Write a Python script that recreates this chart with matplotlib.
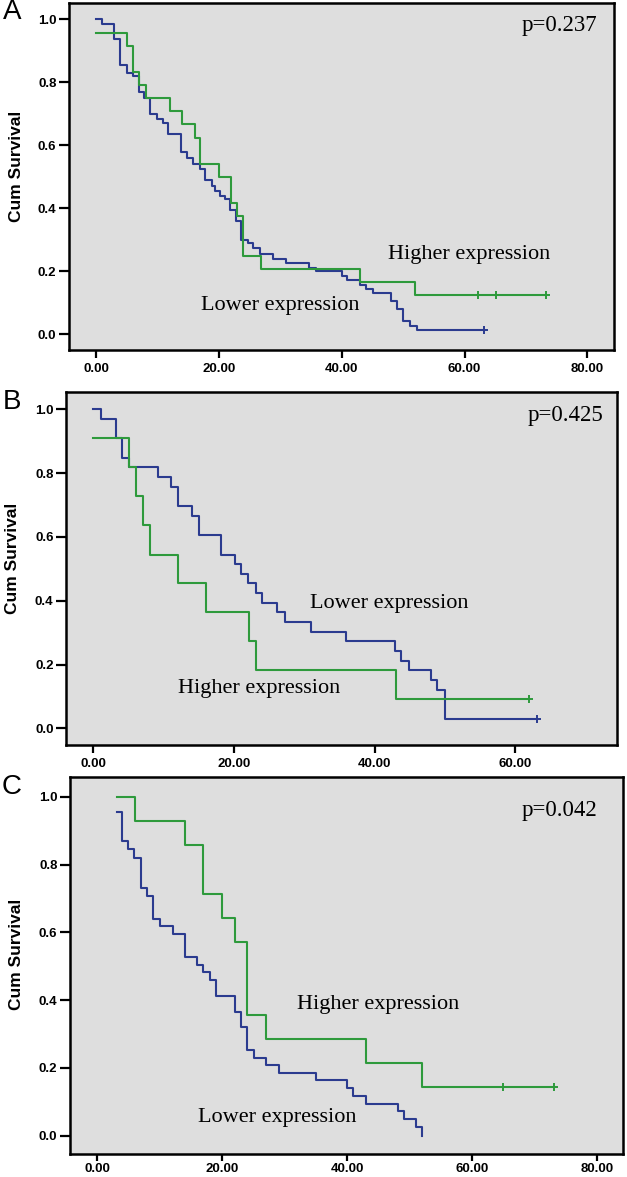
import matplotlib
matplotlib.use('Agg')
import matplotlib.pyplot as plt
import numpy as np

# ---- data (time, cumulative survival) ----
# panel A
a_low_t = [0, 0.9, 2.9, 3.9, 4.9, 5.9, 6.9, 7.8, 8.8, 9.8, 10.8, 11.7, 13.7, 14.7, 15.8,
           16.9, 17.7, 18.8, 19.3, 20.1, 20.9, 21.7, 22.8, 23.6, 24.7, 25.5, 26.6, 28.8,
           30.9, 34.7, 35.8, 40.0, 40.8, 43.0, 44.0, 45.0, 48.0, 49.0, 50.0, 51.1, 52.2, 63.2]
a_low_s = [1.0, .987, .937, .855, .83, .82, .77, .75, .70, .685, .67, .635, .58, .56, .54,
           .525, .49, .47, .455, .44, .43, .395, .36, .30, .29, .275, .255, .24,
           .225, .21, .20, .185, .172, .158, .145, .132, .107, .08, .041, .027, .014, .014]
a_low_cens = [63.2]
a_high_t = [0, 5.0, 5.9, 7.0, 8.0, 12.0, 14.0, 16.0, 16.9, 20.0, 22.0, 22.9, 23.9, 26.9, 43.0, 52.0, 73.2]
a_high_s = [.958, .917, .833, .792, .75, .708, .667, .625, .542, .5, .417, .375, .25, .208, .167, .125, .125]
a_high_cens = [62.2, 65.2, 73.2]

# panel B
b_low_t = [0, 1.1, 3.2, 4.1, 5.1, 9.2, 11.1, 12.1, 14.1, 15.1, 18.2, 20.1, 21.0, 22.0,
           23.1, 24.0, 26.1, 27.2, 31.0, 36.0, 42.9, 43.8, 44.9, 48.0, 48.9, 50.0, 63.1]
b_low_s = [1.0, .970, .909, .848, .818, .788, .758, .697, .667, .606, .545, .515, .485, .455,
           .424, .394, .364, .333, .303, .273, .242, .212, .182, .152, .121, .030, .030]
b_low_cens = [63.1]
b_high_t = [0, 5.1, 6.1, 7.1, 8.0, 12.1, 16.1, 22.1, 23.2, 43.0, 62.0]
b_high_s = [.909, .818, .727, .636, .545, .455, .364, .273, .182, .091, .091]
b_high_cens = [62.0]

# panel C
c_low_t = [3.2, 3.9, 5.0, 5.95, 7.0, 8.0, 9.0, 10.0, 12.1, 14.1, 15.9, 16.9, 18.0, 19.1,
           22.0, 23.1, 24.0, 25.1, 27.1, 29.1, 35.0, 40.0, 40.9, 43.1, 48.1, 49.1, 51.0, 52.0]
c_low_s = [.955, .868, .845, .82, .73, .708, .64, .618, .596, .526, .505, .483, .459, .412,
           .366, .32, .252, .23, .208, .186, .164, .14, .117, .095, .072, .05, .027, 0.0]
c_low_cens = []
c_high_t = [3.1, 6.1, 14.1, 17.0, 20.0, 22.0, 24.0, 27.1, 43.1, 52.0, 73.1]
c_high_s = [1.0, .929, .857, .714, .643, .571, .357, .286, .214, .143, .143]
c_high_cens = [65.0, 73.1]

p_vals = ['p=0.237', 'p=0.425', 'p=0.042']
letters = ['A', 'B', 'C']

BLUE = '#2b3b8f'
GREEN = '#2e9a3c'
BG = '#dedede'

fig = plt.figure(figsize=(6.27, 11.77), dpi=100)

panels = [
    dict(rect=[0.110, 0.7026, 0.8692, 0.2948], xlim=(-4.48, 84.35), ylim=(-0.05, 1.052),
         xt=[0, 20, 40, 60, 80], tl=6, pad=3,
         low=(a_low_t, a_low_s, a_low_cens), high=(a_high_t, a_high_s, a_high_cens),
         hi_txt=(47.5, 0.252), lo_txt=(17.1, 0.093), p_xy=(81.6, 0.982),
         let_y=12),
    dict(rect=[0.1053, 0.3670, 0.8783, 0.2999], xlim=(-3.88, 74.45), ylim=(-0.052, 1.054),
         xt=[0, 20, 40, 60], tl=6, pad=3,
         low=(b_low_t, b_low_s, b_low_cens), high=(b_high_t, b_high_s, b_high_cens),
         hi_txt=(12.05, 0.126), lo_txt=(30.8, 0.393), p_xy=(72.5, 0.982),
         let_y=402),
    dict(rect=[0.1116, 0.0195, 0.8815, 0.3206], xlim=(-4.37, 84.16), ylim=(-0.054, 1.059),
         xt=[0, 20, 40, 60, 80], tl=5, pad=1.5,
         low=(c_low_t, c_low_s, c_low_cens), high=(c_high_t, c_high_s, c_high_cens),
         hi_txt=(32.0, 0.386), lo_txt=(16.1, 0.054), p_xy=(80.1, 0.96),
         let_y=787),
]

for i, pn in enumerate(panels):
    ax = fig.add_axes(pn['rect'])
    ax.set_facecolor(BG)
    for side in ['top', 'right', 'bottom', 'left']:
        ax.spines[side].set_linewidth(1.8)
        ax.spines[side].set_color('black')

    for (t, s, cens), col in [(pn['low'], BLUE), (pn['high'], GREEN)]:
        ax.step(t, s, where='post', color=col, lw=1.5)
        if len(cens):
            cs = [s[-1]] * len(cens)
            ax.plot(cens, cs, ls='none', marker='+', ms=6, mew=1.4, color=col)

    ax.set_xlim(*pn['xlim'])
    ax.set_ylim(*pn['ylim'])
    ax.set_xticks(pn['xt'])
    ax.set_xticklabels(['%.2f' % v for v in pn['xt']])
    ax.set_yticks([0, 0.2, 0.4, 0.6, 0.8, 1.0])
    ax.set_yticklabels(['0.0', '0.2', '0.4', '0.6', '0.8', '1.0'])
    for lab in ax.get_xticklabels() + ax.get_yticklabels():
        lab.set_fontfamily('Liberation Sans')
        lab.set_fontweight('bold')
        lab.set_fontsize(9.5)
    ax.tick_params(axis='x', length=pn['tl'], width=1.6, pad=pn['pad'])
    ax.tick_params(axis='y', length=7, width=1.6, pad=2)

    ax.set_ylabel('Cum Survival', fontfamily='Liberation Sans', fontweight='bold', fontsize=12.5)
    ax.yaxis.set_label_coords(-0.083, 0.53)

    ax.text(pn['hi_txt'][0], pn['hi_txt'][1], 'Higher expression', fontfamily='Liberation Serif',
            fontsize=16, va='center', ha='left')
    ax.text(pn['lo_txt'][0], pn['lo_txt'][1], 'Lower expression', fontfamily='Liberation Serif',
            fontsize=16, va='center', ha='left')
    ax.text(pn['p_xy'][0], pn['p_xy'][1], p_vals[i], fontfamily='Liberation Serif',
            fontsize=16.5, va='center', ha='right')

    fig.text(12 / 627, 1 - pn['let_y'] / 1177, letters[i], fontfamily='Liberation Sans',
             fontsize=20, va='center', ha='center')

fig.savefig('out.png', dpi=100, facecolor='white')
